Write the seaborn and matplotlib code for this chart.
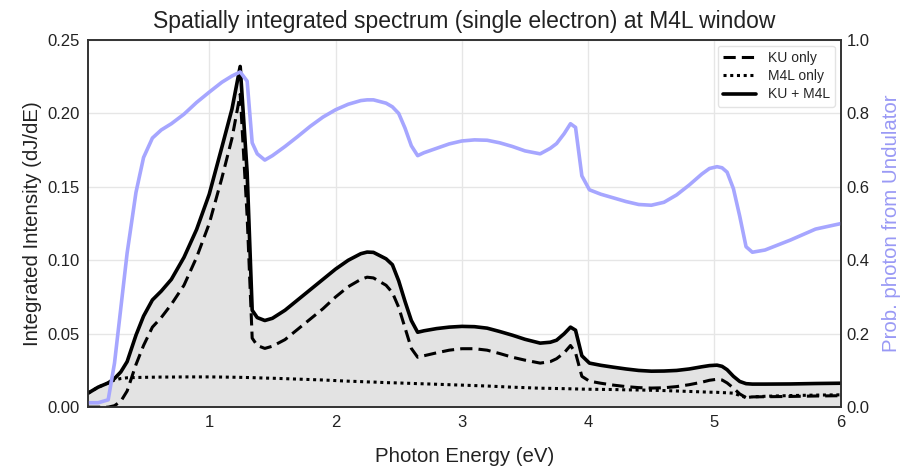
import matplotlib
matplotlib.use("Agg")
import matplotlib.pyplot as plt
import seaborn as sns
import pandas as pd

energy = [0.04, 0.12, 0.2, 0.25, 0.3, 0.35, 0.42, 0.48, 0.55, 0.62, 0.7, 0.8, 0.9, 1.0, 1.1, 1.18, 1.245, 1.3, 1.34, 1.38, 1.44,
          1.5, 1.6, 1.7, 1.8, 1.9, 2.0, 2.1, 2.2, 2.25, 2.3, 2.4, 2.45, 2.5, 2.55, 2.6, 2.65,
          2.7, 2.8, 2.9, 3.0, 3.1, 3.2, 3.3, 3.4, 3.5, 3.62, 3.7,
          3.75, 3.81, 3.86, 3.9, 3.95, 4.01,
          4.1, 4.2, 4.3, 4.4, 4.5, 4.6, 4.7, 4.8, 4.9, 4.96, 5.02, 5.06, 5.1, 5.15, 5.2, 5.25, 5.3,
          5.4, 5.6, 5.8, 6.0]

ku_m4l = [0.0095, 0.0136, 0.0165, 0.0195, 0.024, 0.031, 0.049, 0.062, 0.073, 0.079, 0.087, 0.102, 0.121, 0.145, 0.177, 0.203, 0.232, 0.16, 0.066, 0.061, 0.059,
          0.0605, 0.066, 0.073, 0.080, 0.087, 0.094, 0.100, 0.1045, 0.1056, 0.1054, 0.101, 0.097, 0.086, 0.072, 0.059, 0.051,
          0.052, 0.0535, 0.0545, 0.055, 0.0548, 0.0538, 0.0515, 0.049, 0.0462, 0.0436, 0.0442,
          0.0456, 0.050, 0.0545, 0.0524, 0.035, 0.030,
          0.0285, 0.0272, 0.026, 0.025, 0.0245, 0.0246, 0.025, 0.026, 0.0275, 0.0283, 0.0286, 0.0278, 0.0255, 0.021, 0.0175, 0.016, 0.0157,
          0.0157, 0.0158, 0.0161, 0.0163]

ku_only = [0.0, 0.0, 0.0, 0.001, 0.004, 0.011, 0.029, 0.042, 0.0545, 0.061, 0.070, 0.083, 0.102, 0.125, 0.156, 0.183, 0.213, 0.13, 0.047, 0.042, 0.040,
           0.0415, 0.046, 0.053, 0.060, 0.067, 0.075, 0.082, 0.087, 0.0885, 0.088, 0.083, 0.078, 0.068, 0.054, 0.040, 0.034,
           0.035, 0.037, 0.0388, 0.0398, 0.0398, 0.0388, 0.0365, 0.034, 0.032, 0.030, 0.031,
           0.033, 0.037, 0.042, 0.037, 0.021, 0.0177,
           0.0163, 0.015, 0.014, 0.0133, 0.013, 0.0132, 0.014, 0.0153, 0.017, 0.0183, 0.019, 0.0185, 0.0165, 0.013, 0.009, 0.0065, 0.007,
           0.0071, 0.0073, 0.0076, 0.0078]

m4l_only = [0.0095, 0.0136, 0.0165, 0.0185, 0.0195, 0.020, 0.0202, 0.0203, 0.0204, 0.0205, 0.0205, 0.0206, 0.0206, 0.0206, 0.0205, 0.0204, 0.0203, 0.0202, 0.0201, 0.0200, 0.0198,
            0.0197, 0.0194, 0.0191, 0.0188, 0.0185, 0.0181, 0.0177, 0.0174, 0.0172, 0.0171, 0.0167, 0.0166, 0.0165, 0.0163, 0.0162, 0.016,
            0.0159, 0.0156, 0.0153, 0.015, 0.0147, 0.0144, 0.014, 0.0136, 0.0133, 0.0129, 0.0128,
            0.0127, 0.0126, 0.0125, 0.0124, 0.0123, 0.0122,
            0.0121, 0.012, 0.0118, 0.0117, 0.0115, 0.0113, 0.011, 0.0107, 0.0104, 0.0102, 0.0101, 0.0099, 0.0098, 0.0095, 0.008, 0.0065, 0.007,
            0.0074, 0.0079, 0.0082, 0.0084]

prob_undulator = [0.012, 0.012, 0.02, 0.12, 0.27, 0.42, 0.585, 0.68, 0.733, 0.755, 0.772, 0.798, 0.83, 0.858, 0.885, 0.902, 0.913, 0.888, 0.72, 0.69, 0.673,
                  0.685, 0.71, 0.737, 0.765, 0.79, 0.81, 0.825, 0.835, 0.837, 0.837, 0.828, 0.818, 0.80, 0.76, 0.712, 0.685,
                  0.693, 0.705, 0.717, 0.725, 0.728, 0.727, 0.72, 0.71, 0.698, 0.69, 0.705,
                  0.718, 0.745, 0.772, 0.762, 0.63, 0.592,
                  0.58, 0.57, 0.56, 0.552, 0.55, 0.558, 0.578, 0.605, 0.635, 0.65, 0.655, 0.652, 0.64, 0.595, 0.52, 0.437, 0.422,
                  0.428, 0.455, 0.485, 0.5]

x_ticks = [1, 2, 3, 4, 5, 6]
left_ticks = [0.0, 0.05, 0.10, 0.15, 0.20, 0.25]
right_ticks = [0.0, 0.2, 0.4, 0.6, 0.8, 1.0]

df = pd.DataFrame({"E": energy, "ku": ku_only, "m4l": m4l_only, "tot": ku_m4l, "prob": prob_undulator})

sns.set_theme(style="whitegrid")
plt.rcParams["font.family"] = ["Liberation Sans", "DejaVu Sans"]
plt.rcParams["grid.color"] = "#e6e6e6"

fig = plt.figure(figsize=(9.07, 4.68), dpi=100)
ax = fig.add_axes([0.097, 0.130, 0.830, 0.7845])

ax.fill_between(df["E"], df["tot"], color="#e3e3e3", zorder=1)
sns.lineplot(data=df, x="E", y="ku", ax=ax, color="black", lw=2.2, linestyle=(0, (4, 2)),
             label="KU only", sort=False, zorder=3)
sns.lineplot(data=df, x="E", y="m4l", ax=ax, color="black", lw=2.2, linestyle=(0, (1, 1.2)),
             label="M4L only", sort=False, zorder=3)
sns.lineplot(data=df, x="E", y="tot", ax=ax, color="black", lw=2.6, label="KU + M4L",
             sort=False, zorder=3)

ax.set_xlim(0.04, 6)
ax.set_ylim(0, 0.25)
ax.set_xticks(x_ticks)
ax.set_yticks(left_ticks)
ax.set_yticklabels([f"{v:.2f}" for v in left_ticks])
ax.set_xlabel("Photon Energy (eV)", fontsize=14.7, labelpad=12, color="#222222")
ax.set_ylabel("Integrated Intensity (dJ/dE)", fontsize=14.7, color="#222222")
ax.tick_params(labelsize=12, colors="#222222", length=0, pad=6)
for s in ax.spines.values():
    s.set_linewidth(1.2)
    s.set_color("#333333")

ax2 = ax.twinx()
sns.lineplot(data=df, x="E", y="prob", ax=ax2, color="#a6a6ff", lw=2.6, sort=False, legend=False)
ax2.set_ylim(0, 1.0)
ax2.set_yticks(right_ticks)
ax2.set_yticklabels([f"{v:.1f}" for v in right_ticks])
ax2.grid(False)
ax2.set_xlabel("")
ax2.set_ylabel("Prob. photon from Undulator", fontsize=14.7, color="#9999f5", labelpad=9)
ax2.tick_params(labelsize=12, colors="#222222", length=0, pad=4)
for s in ax2.spines.values():
    s.set_linewidth(1.2)
    s.set_color("#333333")

leg = ax.legend(loc="upper right", fontsize=10, handlelength=2.4, frameon=True,
                borderaxespad=0.4, labelspacing=0.3)
leg.get_frame().set_edgecolor("#dddddd")
leg.set_zorder(10)

ax.set_title("Spatially integrated spectrum (single electron) at M4L window", fontsize=16.5, pad=9,
             color="#222222")

fig.savefig("out.png", dpi=100)
